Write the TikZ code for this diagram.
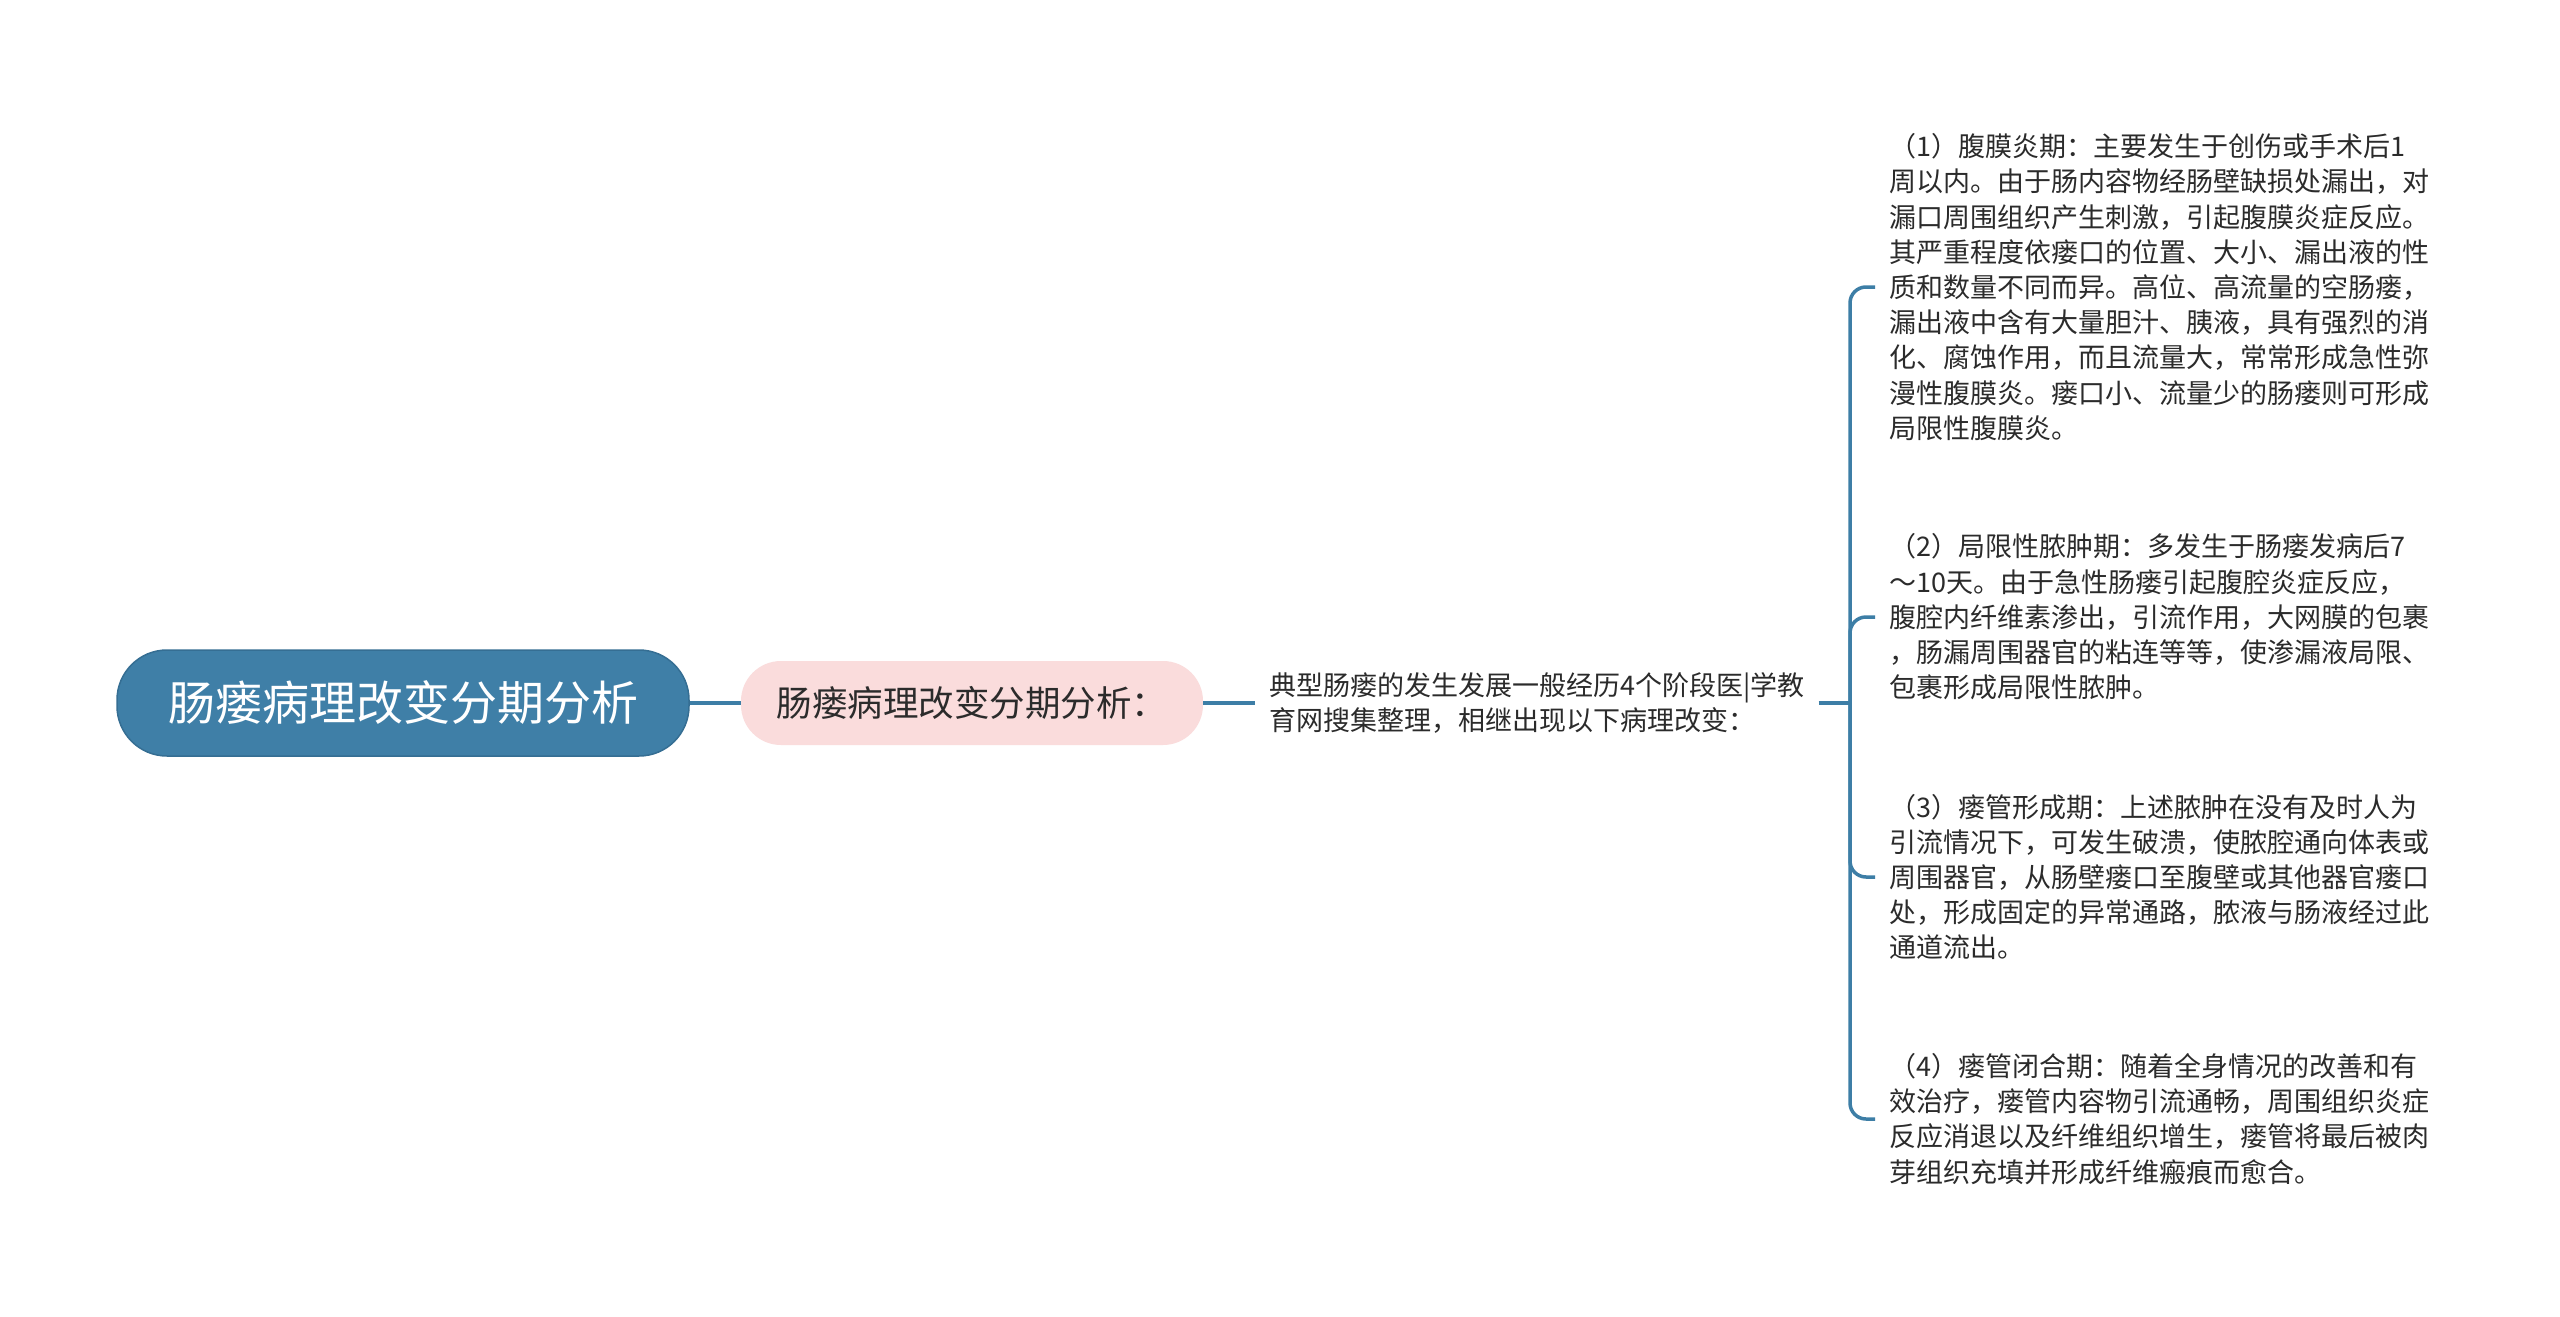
\documentclass[tikz,border=0pt]{standalone}
\usepackage{fontspec}
\setmainfont{Noto Sans CJK SC}
\definecolor{mainblue}{HTML}{3F7FA7}
\definecolor{rootborder}{HTML}{356E93}
\definecolor{linkblue}{HTML}{3D7EA6}
\definecolor{pinkfill}{HTML}{FADCDC}
\definecolor{txt}{HTML}{2B2B2B}
\tikzset{
  rootnode/.style={draw=rootborder, line width=1.5pt, fill=mainblue, text=white, rounded corners=50pt,
    minimum width=572pt, minimum height=106pt, inner sep=0pt,
    font=\fontsize{47}{56}\selectfont},
  subnode/.style={fill=pinkfill, text=txt, rounded corners=40pt, minimum width=462pt,
    minimum height=84pt, inner sep=0pt, font=\fontsize{35.5}{43}\selectfont},
  leafnode/.style={text=txt, align=left, inner xsep=14pt, inner ysep=0pt,
    font=\fontsize{27}{35.2}\selectfont},
  link/.style={draw=linkblue, line width=3.5pt},
}
\begin{document}
\begin{tikzpicture}[x=1pt,y=-1pt]
\useasboundingbox[fill=white] (0,0) rectangle (2560,1317);

\node[rootnode] (root) at (403,703) {肠瘘病理改变分期分析};
\node[subnode] (sub) at (972,703) {肠瘘病理改变分期分析：};
\node[leafnode, anchor=west] (mid) at (1255,703) {典型肠瘘的发生发展一般经历4个阶段医|学教\\育网搜集整理，相继出现以下病理改变：};

\coordinate (jn) at (1850,703);

\node[leafnode, anchor=west, text width=560pt] (c1) at (1875,287) {（1）腹膜炎期：主要发生于创伤或手术后1\\周以内。由于肠内容物经肠壁缺损处漏出，对\\漏口周围组织产生刺激，引起腹膜炎症反应。\\其严重程度依瘘口的位置、大小、漏出液的性\\质和数量不同而异。高位、高流量的空肠瘘，\\漏出液中含有大量胆汁、胰液，具有强烈的消\\化、腐蚀作用，而且流量大，常常形成急性弥\\漫性腹膜炎。瘘口小、流量少的肠瘘则可形成\\局限性腹膜炎。};
\node[leafnode, anchor=west, text width=560pt] (c2) at (1875,617) {（2）局限性脓肿期：多发生于肠瘘发病后7\\～10天。由于急性肠瘘引起腹腔炎症反应，\\腹腔内纤维素渗出，引流作用，大网膜的包裹\\，肠漏周围器官的粘连等等，使渗漏液局限、\\包裹形成局限性脓肿。};
\node[leafnode, anchor=west, text width=560pt] (c3) at (1875,877) {（3）瘘管形成期：上述脓肿在没有及时人为\\引流情况下，可发生破溃，使脓腔通向体表或\\周围器官，从肠壁瘘口至腹壁或其他器官瘘口\\处，形成固定的异常通路，脓液与肠液经过此\\通道流出。};
\node[leafnode, anchor=west, text width=560pt] (c4) at (1875,1119) {（4）瘘管闭合期：随着全身情况的改善和有\\效治疗，瘘管内容物引流通畅，周围组织炎症\\反应消退以及纤维组织增生，瘘管将最后被肉\\芽组织充填并形成纤维瘢痕而愈合。};

\draw[link] (root.east) -- (sub.west);
\draw[link] (sub.east) -- (mid.west);
\draw[link] (mid.east) -- (jn);
\draw[link, rounded corners=16pt] (jn) |- (c1.west);
\draw[link, rounded corners=16pt] (jn) |- (c2.west);
\draw[link, rounded corners=16pt] (jn) |- (c3.west);
\draw[link, rounded corners=16pt] (jn) |- (c4.west);
\end{tikzpicture}
\end{document}
